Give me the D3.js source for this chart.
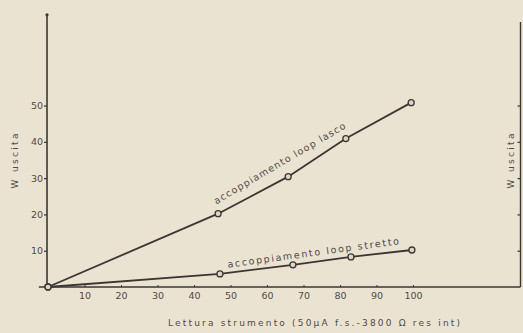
<!DOCTYPE html>
<html>
<head>
<meta charset="utf-8">
<script src="https://cdn.jsdelivr.net/npm/d3@7"></script>
<style>
  html, body { margin: 0; padding: 0; background: #ebe3d2; }
  svg { display: block; }
  text { font-family: "DejaVu Sans", sans-serif; fill: #4e4a44; }
</style>
</head>
<body>
<div id="chart"></div>
<script>
// values
const xTicks = [10, 20, 30, 40, 50, 60, 70, 80, 90, 100];
const yTicks = [10, 20, 30, 40, 50];
const lascoX = [0, 46.6, 65.8, 81.6, 99.5];
const lascoY = [0, 20.2, 30.4, 40.9, 50.8];
const strettoX = [0, 47.1, 67.1, 83.0, 99.7];
const strettoY = [0, 3.6, 6.1, 8.3, 10.2];
const xTitle = "Lettura  strumento (50µA f.s.-3800 Ω res int)";
const yTitle = "W uscita";

const width = 523, height = 333;
const ink = "#3a3733";

const svg = d3.select("#chart").append("svg")
    .attr("width", width)
    .attr("height", height);

svg.append("rect").attr("width", width).attr("height", height).attr("fill", "#ebe3d2");

const x = d3.scaleLinear().domain([0, 100]).range([48, 413]);
const y = d3.scaleLinear().domain([0, 75]).range([287, 14.8]);
const rightX = 520.5;

// axis lines
svg.append("line")
    .attr("x1", x(0) - 1).attr("x2", x(0) - 1)
    .attr("y1", y(0)).attr("y2", y(75))
    .attr("stroke", ink).attr("stroke-width", 1.6);
svg.append("circle")
    .attr("cx", x(0) - 1).attr("cy", y(75)).attr("r", 1.6).attr("fill", ink);
svg.append("line")
    .attr("x1", x(-2.5)).attr("x2", rightX)
    .attr("y1", y(0)).attr("y2", y(0))
    .attr("stroke", ink).attr("stroke-width", 1.6);
svg.append("line")
    .attr("x1", rightX).attr("x2", rightX)
    .attr("y1", y(0)).attr("y2", y(73))
    .attr("stroke", ink).attr("stroke-width", 1.4);

// left axis ticks
const yAxis = svg.append("g")
    .attr("transform", `translate(${x(0) - 1},0)`)
    .call(d3.axisLeft(y).tickValues(yTicks).tickSize(3).tickPadding(1));
yAxis.select(".domain").remove();
yAxis.selectAll("line").attr("stroke", ink).attr("stroke-width", 1.2);
yAxis.selectAll("text").attr("font-size", 9.5).attr("fill", "#4e4a44")
    .style("font-family", "DejaVu Sans");

// right axis ticks
const yAxisR = svg.append("g")
    .attr("transform", `translate(${rightX},0)`)
    .call(d3.axisLeft(y).tickValues(yTicks).tickSize(3).tickFormat(""));
yAxisR.select(".domain").remove();
yAxisR.selectAll("line").attr("stroke", ink).attr("stroke-width", 1.2);

// bottom axis
const xAxis = svg.append("g")
    .attr("transform", `translate(0,${y(0)})`)
    .call(d3.axisBottom(x).tickValues(xTicks).tickSizeInner(-2).tickSizeOuter(0).tickPadding(5));
xAxis.select(".domain").remove();
xAxis.selectAll("line").attr("stroke", ink).attr("stroke-width", 1);
xAxis.selectAll("text").attr("font-size", 9.5).attr("fill", "#4e4a44")
    .style("font-family", "DejaVu Sans");

// axis titles
svg.append("text")
    .attr("x", 168).attr("y", 326)
    .attr("font-size", 9)
    .attr("textLength", 292).attr("lengthAdjust", "spacing")
    .text(xTitle);

[15, 511].forEach(cx => {
  svg.append("text")
      .attr("transform", `translate(${cx},161) rotate(-90)`)
      .attr("text-anchor", "middle")
      .attr("dominant-baseline", "central")
      .attr("font-size", 9)
      .attr("textLength", 55).attr("lengthAdjust", "spacing")
      .text(yTitle);
});

// series
const line = d3.line().x(d => x(d[0])).y(d => y(d[1]));
const series = [
  { name: "accoppiamento loop lasco", pts: d3.zip(lascoX, lascoY), at: [1, 3], off: 9, len: 151, dx: 0.03 },
  { name: "accoppiamento loop  stretto", pts: d3.zip(strettoX, strettoY), at: [2, 3], off: 6, len: 173, dx: -0.13 }
];

series.forEach(s => {
  svg.append("path")
      .attr("d", line(s.pts))
      .attr("fill", "none")
      .attr("stroke", ink)
      .attr("stroke-width", 1.8);

  svg.append("g").selectAll("circle")
      .data(s.pts)
      .join("circle")
      .attr("cx", d => x(d[0]))
      .attr("cy", d => y(d[1]))
      .attr("r", 3)
      .attr("fill", "#ddd6c6")
      .attr("stroke", ink)
      .attr("stroke-width", 1.3);

  // label along the segment
  const a = s.pts[s.at[0]], b = s.pts[s.at[1]];
  const x0 = x(a[0]), y0 = y(a[1]), x1 = x(b[0]), y1 = y(b[1]);
  const ang = Math.atan2(y1 - y0, x1 - x0);
  const mx = x0 + (x1 - x0) * (0.5 + s.dx), my = y0 + (y1 - y0) * (0.5 + s.dx);
  svg.append("text")
      .attr("transform", `translate(${mx + Math.sin(ang) * s.off},${my - Math.cos(ang) * s.off}) rotate(${ang * 180 / Math.PI})`)
      .attr("text-anchor", "middle")
      .attr("font-size", 9.5)
      .attr("textLength", s.len).attr("lengthAdjust", "spacing")
      .text(s.name);
});
</script>
</body>
</html>
